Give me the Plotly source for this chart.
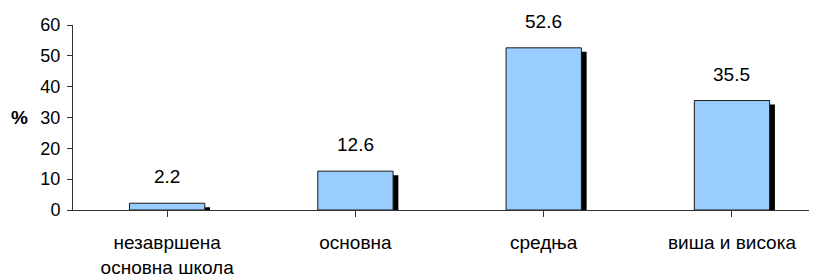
import plotly.graph_objects as go

categories = ["незавршена<br>основна школа", "основна", "средња", "виша и висока"]
values = [2.2, 12.6, 52.6, 35.5]
y_ticks = [0, 10, 20, 30, 40, 50, 60]

FONT = "Liberation Sans, Arial, sans-serif"
BAR_W = 0.4
SHADOW_DX = 0.028   # category units
SHADOW_DY = 1.3     # value units

xs = list(range(len(categories)))

fig = go.Figure()
# shadow
fig.add_trace(go.Bar(
    x=xs, y=[v - SHADOW_DY + 0.6 for v in values], base=[-0.6] * len(values),
    width=BAR_W, offset=-BAR_W / 2 + SHADOW_DX,
    marker=dict(color="black", line=dict(width=0)),
    hoverinfo="skip", showlegend=False,
))
# main bars
fig.add_trace(go.Bar(
    x=xs, y=values, width=BAR_W, offset=-BAR_W / 2,
    marker=dict(color="#99CCFF", line=dict(color="#1a1a1a", width=1)),
    showlegend=False,
))

for x, v in zip(xs, values):
    fig.add_annotation(x=x, y=v, text=f"{v:.1f}", showarrow=False,
                       yanchor="bottom", yshift=14,
                       font=dict(family=FONT, size=19, color="black"))

fig.add_annotation(xref="paper", yref="y", x=-0.071, y=30, text="<b>%</b>",
                   showarrow=False, xanchor="center", yanchor="middle",
                   font=dict(family=FONT, size=19, color="black"))

fig.update_layout(
    width=817, height=278,
    margin=dict(l=65, r=0, t=17, b=76),
    paper_bgcolor="white", plot_bgcolor="white",
    barmode="overlay",
    font=dict(family=FONT, size=18, color="black"),
    xaxis=dict(
        range=[-0.5, 3.494], tickmode="array", tickvals=xs, ticktext=categories,
        tickson="boundaries", ticks="outside", ticklen=6, tickcolor="#333",
        showline=True, linecolor="#333", linewidth=1, showgrid=False,
        zeroline=False, ticklabelstandoff=9,
        tickfont=dict(family=FONT, size=19, color="black"),
    ),
    yaxis=dict(
        range=[0, 60], tickvals=y_ticks, ticks="outside", ticklen=5,
        tickcolor="#333", showline=True, linecolor="#333", linewidth=1,
        showgrid=False, zeroline=False, ticklabelstandoff=3,
        tickfont=dict(family=FONT, size=18, color="black"),
    ),
)

fig.write_html("out.html")
